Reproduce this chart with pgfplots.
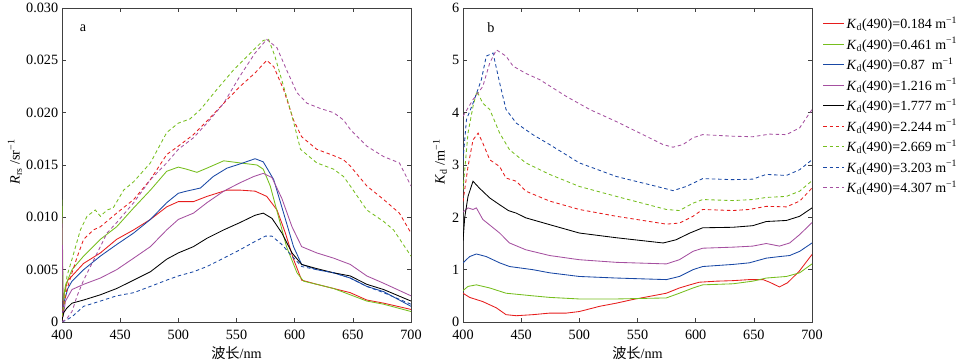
\documentclass[border=0pt]{standalone}
\usepackage{fontspec}
\setmainfont{Liberation Serif}
\newfontfamily\cjk{Noto Sans CJK SC}
\usepackage{pgfplots}
\pgfplotsset{compat=1.18}
\definecolor{cR}{RGB}{230,28,28}
\definecolor{cG}{RGB}{118,190,30}
\definecolor{cB}{RGB}{25,72,165}
\definecolor{cP}{RGB}{165,80,160}
\definecolor{cK}{RGB}{0,0,0}
\pgfplotsset{
  common/.style={
    scale only axis, width=349pt, height=314pt,
    xmin=400, xmax=700,
    xtick={400,450,...,700},
    tick align=inside, major tick length=4pt,
    axis line style={black!75, line width=0.7pt},
    every tick/.style={black!75, line width=0.6pt},
    /pgf/number format/assume math mode=true,
    tick label style={font=\fontsize{14.2}{17}\selectfont},
    xticklabel style={yshift=-3pt},
    yticklabel style={xshift=1pt},
    label style={font=\fontsize{14.2}{17}\selectfont},
    xlabel={{\cjk 波长}/nm},
    xlabel style={at={(axis description cs:0.5,-0.099)}, anchor=center},
    every axis plot/.append style={line width=0.85pt},
    das/.style={dash pattern=on 3.5pt off 2.8pt},
  }
}
\begin{document}
\fontsize{14}{17}\selectfont
\begin{tikzpicture}
\useasboundingbox (0,0) rectangle (960pt,363pt);
% ---------------- panel a
\begin{axis}[common, at={(62pt,41pt)}, anchor=south west,
  ymin=0, ymax=0.030,
  ytick={0,0.005,0.010,0.015,0.020,0.025,0.030},
  yticklabels={0,0.005,0.010,0.015,0.020,0.025,0.030},
  ylabel={\textit{R}\textsubscript{rs} /sr\textsuperscript{−1}},
  ylabel style={at={(axis description cs:-0.135,0.51)}, anchor=center},
]
% red solid 0.184
\addplot[cR] coordinates {(400,0.0002)(402,0.0028)(405,0.0040)(408.6,0.0044)(418.6,0.0056)(433,0.0066)(447,0.0079)(461.6,0.0088)(476,0.0098)(490,0.0110)(500,0.0115)(513,0.0115)(524.6,0.0120)(541.8,0.0126)(553,0.0126)(566,0.0125)(576,0.0120)(584.8,0.0107)(592,0.0085)(599,0.0060)(606,0.0040)(619,0.0036)(633.5,0.0032)(647.8,0.0028)(662,0.0021)(676.5,0.0018)(700,0.0012)};
% green solid 0.461
\addplot[cG] coordinates {(400,0.0117)(401,0.0020)(403,0.0035)(408.6,0.0050)(418.6,0.0063)(433,0.0079)(447,0.0091)(461.6,0.0109)(476,0.0126)(490,0.0144)(500,0.0148)(507,0.0146)(516,0.0143)(524.6,0.0147)(539,0.0154)(553,0.0152)(567.6,0.0150)(573,0.0146)(579,0.0130)(586,0.0101)(593,0.0072)(602,0.0047)(607.7,0.0039)(619,0.0036)(633.5,0.0032)(647.8,0.0026)(662,0.0020)(676.5,0.0017)(700,0.0010)};
% blue solid 0.87
\addplot[cB] coordinates {(400,0.0003)(402,0.0020)(405,0.0032)(408.6,0.0039)(418.6,0.0050)(433,0.0063)(447,0.0074)(461.6,0.0085)(476,0.0098)(490,0.0114)(500,0.0123)(507,0.0125)(519,0.0128)(530,0.0139)(541.8,0.0147)(553,0.0151)(566,0.0156)(573,0.0153)(582,0.0136)(590.5,0.0104)(599,0.0072)(606,0.0055)(619,0.0050)(633.5,0.0047)(647.8,0.0042)(662,0.0034)(676.5,0.0029)(700,0.0015)};
% purple solid 1.216
\addplot[cP] coordinates {(400,0.0100)(401,0.0005)(403,0.0020)(408.6,0.0031)(418.6,0.0036)(433,0.0042)(447,0.0050)(461.6,0.0061)(476,0.0072)(490,0.0088)(500,0.0098)(513,0.0104)(524.6,0.0114)(539,0.0125)(553,0.0133)(564.8,0.0139)(573,0.0142)(580.5,0.0138)(589,0.0118)(597.7,0.0091)(606,0.0072)(619,0.0066)(633.5,0.0061)(647.8,0.0055)(662,0.0044)(676.5,0.0037)(700,0.0025)};
% black solid 1.777
\addplot[cK] coordinates {(400,0.0002)(401.5,0.0009)(404,0.0013)(408.6,0.0018)(418.6,0.0021)(433,0.0026)(447,0.0032)(461.6,0.0040)(476,0.0048)(490,0.0060)(500,0.0066)(513,0.0072)(524.6,0.0080)(539,0.0088)(553,0.0095)(566,0.0102)(573,0.0104)(580.5,0.0099)(589,0.0085)(597.7,0.0066)(606,0.0055)(619,0.0051)(633.5,0.0047)(647.8,0.0044)(662,0.0036)(676.5,0.0031)(700,0.0020)};
% red dashed 2.244
\addplot[cR,das] coordinates {(400,0.0005)(404,0.0030)(408.6,0.0047)(413,0.0062)(418.6,0.0079)(427,0.0088)(433,0.0091)(447,0.0104)(461.6,0.0117)(476,0.0136)(490,0.0160)(500,0.0168)(513,0.0179)(524.6,0.0192)(539,0.0209)(553,0.0225)(566,0.0238)(576,0.0250)(582,0.0244)(590.5,0.0222)(599,0.0193)(606,0.0177)(619,0.0165)(633.5,0.0159)(642,0.0155)(647.8,0.0149)(662,0.0130)(676.5,0.0117)(690,0.0104)(700,0.0085)};
% green dashed 2.669
\addplot[cG,das] coordinates {(400,0.0005)(401.5,0.0015)(404.3,0.0044)(408.6,0.0060)(415.8,0.0088)(421.5,0.0101)(428.6,0.0107)(433,0.0101)(438.7,0.0107)(444,0.0109)(453,0.0126)(461.6,0.0134)(476,0.0152)(490,0.0181)(500,0.0190)(510,0.0194)(519,0.0203)(533,0.0222)(547.6,0.0241)(562,0.0257)(573,0.0269)(577.6,0.0270)(583,0.0254)(590.5,0.0225)(597.7,0.0197)(605,0.0165)(619,0.0152)(633.5,0.0146)(642,0.0139)(647.8,0.0130)(662,0.0107)(676.5,0.0096)(685,0.0088)(700,0.0063)};
% blue dashed 3.203
\addplot[cB,das] coordinates {(400,0.0000)(404,0.0002)(408.6,0.0005)(418.6,0.0015)(433,0.0020)(447,0.0025)(461.6,0.0028)(476,0.0034)(490,0.0040)(500,0.0044)(513,0.0048)(524.6,0.0053)(539,0.0061)(553,0.0069)(566,0.0077)(574.8,0.0082)(580.5,0.0082)(589,0.0074)(597.7,0.0063)(606,0.0053)(619,0.0050)(633.5,0.0047)(647.8,0.0042)(662,0.0034)(676.5,0.0028)(700,0.0017)};
% purple dashed 4.307
\addplot[cP,das] coordinates {(400,0.0000)(404,0.0003)(408.6,0.0010)(413,0.0025)(418.6,0.0040)(425.8,0.0056)(433,0.0072)(438.7,0.0085)(447,0.0095)(461.6,0.0114)(476,0.0136)(490,0.0152)(500,0.0165)(513,0.0176)(524.6,0.0190)(539,0.0209)(553,0.0235)(566,0.0257)(576,0.0270)(584.8,0.0262)(593,0.0241)(602,0.0219)(610.6,0.0209)(622,0.0204)(633.5,0.0200)(642,0.0193)(647.8,0.0184)(662,0.0168)(676.5,0.0158)(690,0.0152)(700,0.0130)};
\node[font=\fontsize{14.2}{17}\selectfont] at (axis cs:418,0.0281) {a};
\end{axis}
% ---------------- panel b
\begin{axis}[common, at={(463pt,41pt)}, anchor=south west,
  ymin=0, ymax=6, ytick={0,1,...,6},
  ylabel={\textit{K}\textsubscript{d} /m\textsuperscript{−1}},
  ylabel style={at={(axis description cs:-0.066,0.51)}, anchor=center},
  legend style={draw=none, fill=none, at={(1.022,0.985)}, anchor=north west,
    font=\fontsize{14}{17}\selectfont, row sep=2.7pt,
    nodes={inner sep=2pt}},
  legend cell align=left,
  legend image code/.code={\draw[#1] (0pt,0pt) -- (21pt,0pt);},
]
\addplot[cR] coordinates {(400,0.55)(405.7,0.47)(417,0.39)(428.7,0.27)(437,0.14)(445.8,0.12)(460,0.14)(474.5,0.17)(488.8,0.17)(500,0.20)(517.5,0.30)(531.8,0.36)(546,0.43)(560.5,0.49)(574.8,0.55)(586,0.65)(595,0.71)(603,0.76)(617.8,0.78)(632,0.79)(646,0.81)(657.9,0.81)(663.6,0.76)(672,0.67)(679,0.75)(689,0.97)(700,1.29)};
\addlegendentry{\textit{K}\textsubscript{d}(490)=0.184 m\textsuperscript{−1}}
\addplot[cG] coordinates {(400,0.60)(404.3,0.68)(411.5,0.71)(423,0.65)(437,0.55)(460,0.50)(474.5,0.47)(500,0.44)(531.8,0.44)(574.8,0.46)(586,0.55)(597.7,0.65)(606,0.71)(632,0.73)(649,0.78)(660.7,0.84)(678,0.87)(689.4,0.94)(700,1.11)};
\addlegendentry{\textit{K}\textsubscript{d}(490)=0.461 m\textsuperscript{−1}}
\addplot[cB] coordinates {(400,1.13)(405.7,1.25)(411.5,1.30)(420,1.25)(431.5,1.13)(440,1.06)(460,1.00)(474.5,0.94)(500,0.87)(531.8,0.84)(574.8,0.81)(586,0.87)(597.7,1.00)(606,1.06)(632,1.10)(646,1.13)(660.7,1.22)(672,1.25)(680.8,1.27)(689.4,1.35)(700,1.51)};
\addlegendentry{\textit{K}\textsubscript{d}(490)=0.87\ \ m\textsuperscript{−1}}
\addplot[cP] coordinates {(400,2.10)(404.3,2.18)(408.6,2.15)(411.5,2.18)(417,1.96)(431.5,1.70)(440,1.51)(454,1.38)(474.5,1.27)(500,1.19)(531.8,1.14)(574.8,1.11)(586,1.19)(597.7,1.35)(606,1.41)(632,1.43)(649,1.45)(660.7,1.50)(672,1.45)(680.8,1.51)(689.4,1.67)(700,1.90)};
\addlegendentry{\textit{K}\textsubscript{d}(490)=1.216 m\textsuperscript{−1}}
\addplot[cK] coordinates {(400,1.55)(401.5,2.00)(404.3,2.40)(408.6,2.69)(414,2.56)(423,2.37)(431.5,2.24)(439,2.13)(445.8,2.08)(454,1.99)(474.5,1.86)(500,1.70)(531.8,1.61)(572,1.51)(583,1.57)(595,1.70)(606,1.80)(632,1.81)(649,1.84)(660.7,1.92)(678,1.94)(689.4,2.02)(700,2.18)};
\addlegendentry{\textit{K}\textsubscript{d}(490)=1.777 m\textsuperscript{−1}}
\addplot[cR,das] coordinates {(400,2.30)(404.3,2.97)(408.6,3.48)(413,3.61)(417,3.42)(423,3.10)(431.5,2.97)(437,2.75)(445.8,2.69)(454,2.50)(474.5,2.31)(500,2.15)(531.8,2.02)(574.8,1.87)(586,1.89)(597.7,2.02)(606,2.15)(632,2.13)(646,2.15)(660.7,2.21)(678,2.20)(689.4,2.31)(700,2.56)};
\addlegendentry{\textit{K}\textsubscript{d}(490)=2.244 m\textsuperscript{−1}}
\addplot[cG,das] coordinates {(400,2.53)(404.3,3.61)(408.6,4.12)(412,4.41)(417,4.18)(423,4.06)(431.5,3.61)(440,3.29)(454,3.04)(474.5,2.82)(500,2.59)(531.8,2.40)(574.8,2.15)(586,2.13)(597.7,2.27)(606,2.34)(632,2.32)(649,2.34)(660.7,2.38)(678,2.40)(689.4,2.50)(700,2.70)};
\addlegendentry{\textit{K}\textsubscript{d}(490)=2.669 m\textsuperscript{−1}}
\addplot[cB,das] coordinates {(400,3.10)(403,3.87)(408.6,4.18)(415.8,4.63)(420,5.08)(425.8,5.14)(431.5,4.57)(437,4.06)(445.8,3.80)(460,3.58)(474.5,3.39)(500,3.04)(531.8,2.78)(572,2.56)(580.5,2.51)(592,2.59)(606,2.74)(632,2.72)(649,2.73)(660.7,2.82)(678,2.80)(689.4,2.91)(700,3.10)};
\addlegendentry{\textit{K}\textsubscript{d}(490)=3.203 m\textsuperscript{−1}}
\addplot[cP,das] coordinates {(400,3.93)(408.6,4.25)(417,4.50)(423,4.95)(428.7,5.20)(437,5.08)(443,4.89)(454,4.75)(466,4.63)(488.8,4.31)(509,4.06)(531.8,3.83)(554.7,3.58)(572,3.39)(580.5,3.34)(589,3.39)(597.7,3.52)(606,3.58)(632,3.55)(649,3.54)(663.6,3.59)(678,3.58)(689.4,3.71)(700,4.06)};
\addlegendentry{\textit{K}\textsubscript{d}(490)=4.307 m\textsuperscript{−1}}
\node[font=\fontsize{14.2}{17}\selectfont] at (axis cs:424,5.62) {b};
\end{axis}
\end{tikzpicture}
\end{document}
